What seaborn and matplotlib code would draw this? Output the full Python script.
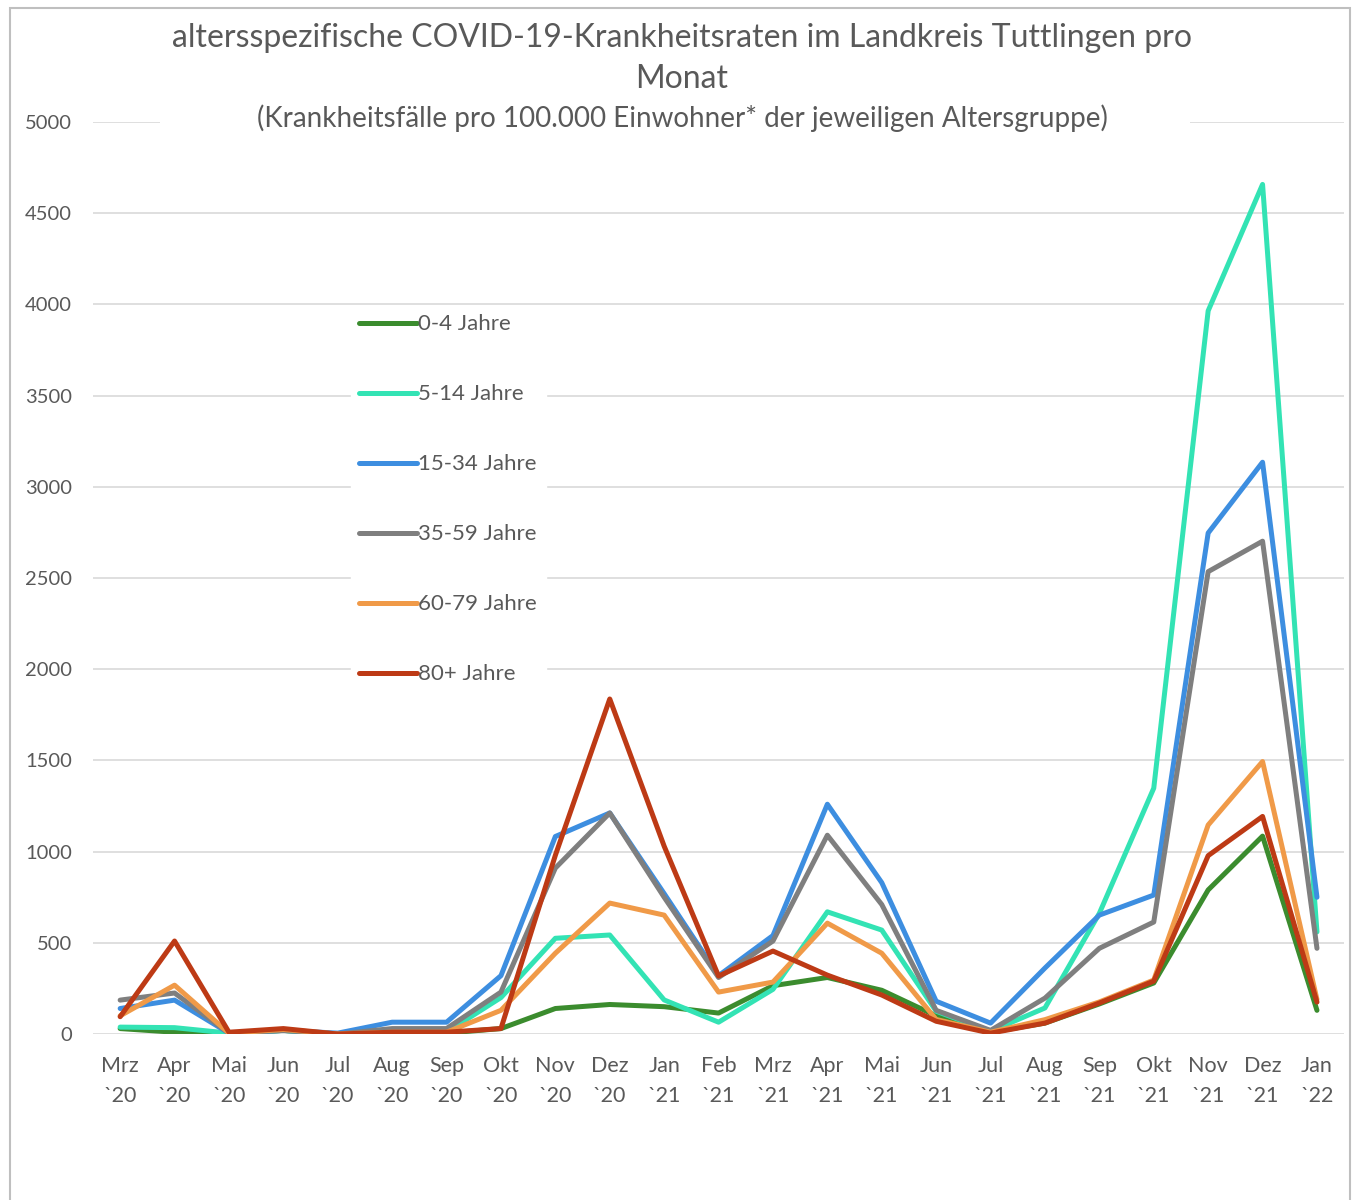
import pandas as pd
import seaborn as sns
import matplotlib.pyplot as plt
from matplotlib.patches import Rectangle

months = ["Mrz\n`20", "Apr\n`20", "Mai\n`20", "Jun\n`20", "Jul\n`20", "Aug\n`20",
          "Sep\n`20", "Okt\n`20", "Nov\n`20", "Dez\n`20", "Jan\n`21", "Feb\n`21",
          "Mrz\n`21", "Apr\n`21", "Mai\n`21", "Jun\n`21", "Jul\n`21", "Aug\n`21",
          "Sep\n`21", "Okt\n`21", "Nov\n`21", "Dez\n`21", "Jan\n`22"]

# Krankheitsfaelle pro 100.000 Einwohner
age_0_4 = [30, 10, 5, 20, 0, 5, 5, 30, 140, 162, 150, 115, 265, 310, 240, 100,
           10, 60, 165, 280, 790, 1085, 130]
age_5_14 = [38, 35, 5, 20, 0, 10, 10, 200, 525, 543, 187, 65, 245, 670, 570, 125,
            15, 143, 662, 1348, 3965, 4658, 560]
age_15_34 = [140, 186, 5, 20, 5, 65, 65, 320, 1083, 1212, 770, 320, 540, 1260, 830, 180,
             60, 362, 652, 762, 2747, 3135, 750]
age_35_59 = [186, 225, 5, 20, 0, 30, 30, 230, 910, 1212, 750, 310, 510, 1090, 710, 130,
             20, 197, 470, 614, 2535, 2702, 470]
age_60_79 = [100, 268, 5, 25, 0, 10, 10, 130, 443, 718, 652, 230, 285, 608, 443, 80,
             10, 79, 176, 296, 1146, 1494, 190]
age_80 = [95, 510, 10, 30, 0, 10, 10, 30, 980, 1837, 1030, 318, 455, 323, 214, 70,
          5, 60, 170, 290, 978, 1193, 175]

groups = ["0-4 Jahre", "5-14 Jahre", "15-34 Jahre", "35-59 Jahre", "60-79 Jahre", "80+ Jahre"]
colors = ["#3b8c2e", "#33e3b4", "#3d8ee0", "#7f7f7f", "#f09a48", "#bd3a15"]

rows = []
for g, vals in zip(groups, [age_0_4, age_5_14, age_15_34, age_35_59, age_60_79, age_80]):
    for i, v in enumerate(vals):
        rows.append({"monat": i, "rate": v, "gruppe": g})
df = pd.DataFrame(rows)

sns.set_style("white")
plt.rcParams['font.family'] = ['Lato', 'DejaVu Sans']
txt = "#595959"

fig = plt.figure(figsize=(13.55, 12), dpi=100)
fig.patches.append(Rectangle((0.0075, -0.05), 0.989, 1.043, transform=fig.transFigure,
                             fill=False, edgecolor="#bfbfbf", linewidth=1.5))

ax = fig.add_axes([0.0686, 0.1383, 0.9234, 0.76])
sns.lineplot(data=df, x="monat", y="rate", hue="gruppe", palette=colors,
             hue_order=groups, linewidth=3.6, ax=ax)

ax.set_xlim(-0.5, 22.5)
ax.set_ylim(0, 5000)
ax.set_yticks(range(0, 5001, 500))
ax.set_xticks(range(len(months)))
ax.set_xticklabels(months, fontsize=15.5, color=txt, linespacing=1.6)
ax.tick_params(axis="y", labelsize=14.5, labelcolor=txt, pad=15, length=0)
ax.tick_params(axis="x", length=0, pad=16)
ax.grid(axis="y", color="#d9d9d9", linewidth=1.2)
ax.set_axisbelow(True)
for s in ax.spines.values():
    s.set_visible(False)
ax.set_xlabel("")
ax.set_ylabel("")

leg = ax.legend(loc="upper left", bbox_to_anchor=(0.197, 0.811), frameon=True,
                fontsize=16, labelspacing=2.25, handlelength=2.6, handletextpad=0.05,
                borderpad=0.4)
leg.get_frame().set_facecolor("white")
leg.get_frame().set_edgecolor("white")
leg.get_frame().set_alpha(1)
for t in leg.get_texts():
    t.set_color(txt)
for h in leg.get_lines():
    h.set_linewidth(3.6)

fig.text(0.503, 0.968, "altersspezifische COVID-19-Krankheitsraten im Landkreis Tuttlingen pro",
         ha="center", va="center", fontsize=23, color=txt)
fig.text(0.503, 0.934, "Monat", ha="center", va="center", fontsize=23, color=txt)
# weisser Streifen hinter dem Untertitel, unterbricht die 5000er Linie
fig.patches.append(Rectangle((160 / 1355, 1 - 130 / 1200), 1030 / 1355, 20 / 1200,
                             transform=fig.transFigure, facecolor="white",
                             edgecolor="none", zorder=2))
fig.text(0.504, 1 - 118 / 1200, "(Krankheitsfälle pro 100.000 Einwohner* der jeweiligen Altersgruppe)",
         ha="center", va="center", fontsize=20, color=txt, zorder=3)

fig.savefig("out.png", dpi=100)
